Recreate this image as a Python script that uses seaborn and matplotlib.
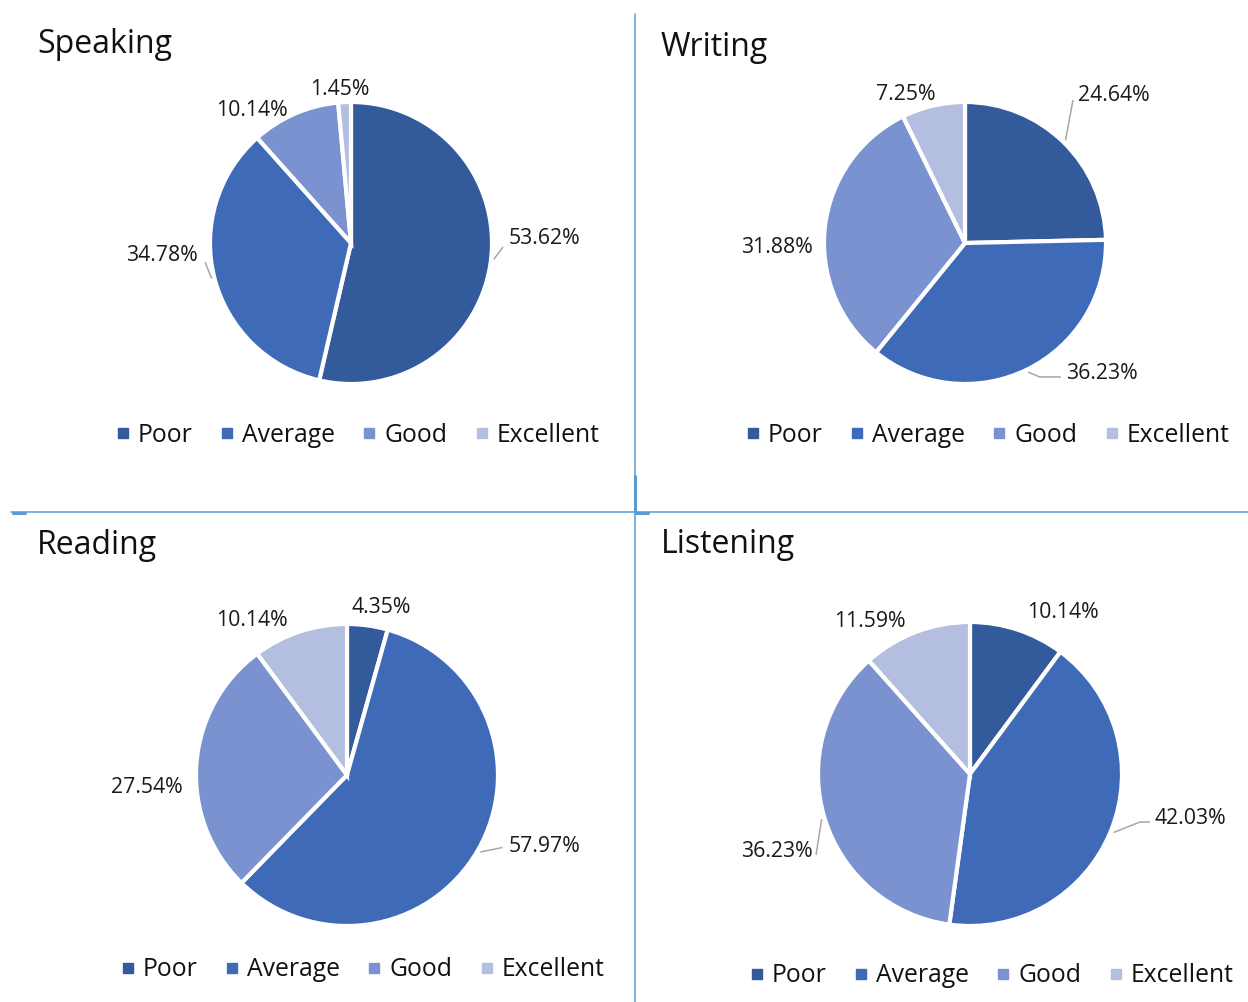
import matplotlib
matplotlib.use("Agg")
import matplotlib.pyplot as plt
import seaborn as sns
import numpy as np
from matplotlib.lines import Line2D

sns.set_theme(style="white")
plt.rcParams['font.family'] = ['Open Sans', 'DejaVu Sans']

# ---- data -------------------------------------------------------------
categories = ["Poor", "Average", "Good", "Excellent"]
speaking = [53.62, 34.78, 10.14, 1.45]
writing = [24.64, 36.23, 31.88, 7.25]
reading = [4.35, 57.97, 27.54, 10.14]
listening = [10.14, 42.03, 36.23, 11.59]
palette = sns.color_palette(["#335A9B", "#3F6AB8", "#7A92CF", "#B3BEE0"])

# ---- layout (pixels) ----------------------------------------------------
W, H = 1248, 1002
fig = plt.figure(figsize=(W / 100, H / 100), dpi=100)

panels = [
    dict(title="Speaking", values=speaking, center=(351, 243), r=141,
         title_xy=(37, 53), legend_xy=(358, 435),
         labels=[(1.372, 0.05), (-1.34, -0.07), (-0.70, 0.957), (-0.078, 1.106)],
         leaders={0: [(1.078, -0.028)], 1: [(-1.035, -0.135)]}),
    dict(title="Writing", values=writing, center=(965, 243), r=141,
         title_xy=(661, 56), legend_xy=(988, 435),
         labels=[(1.057, 1.064), (0.972, -0.908), (-1.337, -0.014), (-0.422, 1.071)],
         leaders={0: [(0.766, 1.014)], 1: [(0.53, -0.95), (0.68, -0.95)]}),
    dict(title="Reading", values=reading, center=(347, 775), r=151,
         title_xy=(37, 554), legend_xy=(363, 970),
         labels=[(0.227, 1.127), (1.307, -0.46), (-1.327, -0.067), (-0.627, 1.04)],
         leaders={1: [(1.03, -0.48)]}),
    dict(title="Listening", values=listening, center=(970, 774), r=152,
         title_xy=(661, 553), legend_xy=(992, 976),
         labels=[(0.612, 1.079), (1.447, -0.276), (-1.273, -0.493), (-0.661, 1.02)],
         leaders={1: [(1.118, -0.316), (1.184, -0.316)], 2: [(-1.013, -0.533)]}),
]

SPAN = 1.6
LABEL_DROP = 2.5  # px, nudges percentage labels down onto their text line
leader_color = "#A6A6A6"

for p in panels:
    cx, cy = p["center"]
    r = p["r"]
    ax = fig.add_axes([(cx - SPAN * r) / W, 1 - (cy + SPAN * r) / H,
                       2 * SPAN * r / W, 2 * SPAN * r / H])
    wedges, _ = ax.pie(p["values"], colors=palette, startangle=90,
                       counterclock=False, radius=1.0,
                       wedgeprops=dict(edgecolor="white", linewidth=3))
    ax.set_xlim(-SPAN, SPAN)
    ax.set_ylim(-SPAN, SPAN)
    ax.set_aspect("equal")
    ax.axis("off")

    for i, (w, v) in enumerate(zip(wedges, p["values"])):
        lx, ly = p["labels"][i]
        ax.text(lx, ly - LABEL_DROP / r, f"{v:.2f}%", ha="center", va="center",
                fontsize=15.3, color="#1a1a1a")
        if i in p["leaders"]:
            mid = np.deg2rad((w.theta1 + w.theta2) / 2)
            pts = [(1.02 * np.cos(mid), 1.02 * np.sin(mid))] + p["leaders"][i]
            xs, ys = zip(*pts)
            ax.plot(xs, ys, color=leader_color, lw=1.1, solid_capstyle="butt")

    fig.text(p["title_xy"][0] / W, 1 - p["title_xy"][1] / H, p["title"],
             ha="left", va="baseline", fontsize=23, color="#111111")

    handles = [Line2D([0], [0], marker="s", linestyle="none", markersize=7,
                      markerfacecolor=c, markeredgecolor=c) for c in palette]
    lx, ly = p["legend_xy"]
    fig.legend(handles, categories, loc="center", ncol=4,
               bbox_to_anchor=(lx / W, 1 - ly / H), frameon=False,
               fontsize=17.8, handlelength=0.5, handletextpad=0.35,
               columnspacing=1.15, borderpad=0, labelcolor="#111111")

# ---- panel dividers ----------------------------------------------------
div_color = "#5B9BD5"
fig.add_artist(Line2D([635 / W, 635 / W], [1 - 14 / H, 0], color=div_color,
                      lw=1.1, transform=fig.transFigure))
fig.add_artist(Line2D([11 / W, 1], [1 - 512 / H, 1 - 512 / H], color=div_color,
                      lw=1.1, transform=fig.transFigure))
fig.add_artist(Line2D([635 / W, 635 / W], [1 - 476 / H, 1 - 512 / H],
                      color=div_color, lw=2.2, transform=fig.transFigure))
fig.add_artist(Line2D([13 / W, 25 / W], [1 - 513 / H, 1 - 513 / H],
                      color=div_color, lw=2.2, transform=fig.transFigure))
fig.add_artist(Line2D([636 / W, 648 / W], [1 - 513 / H, 1 - 513 / H],
                      color=div_color, lw=2.2, transform=fig.transFigure))

fig.savefig("out.png", dpi=100, facecolor="white")
